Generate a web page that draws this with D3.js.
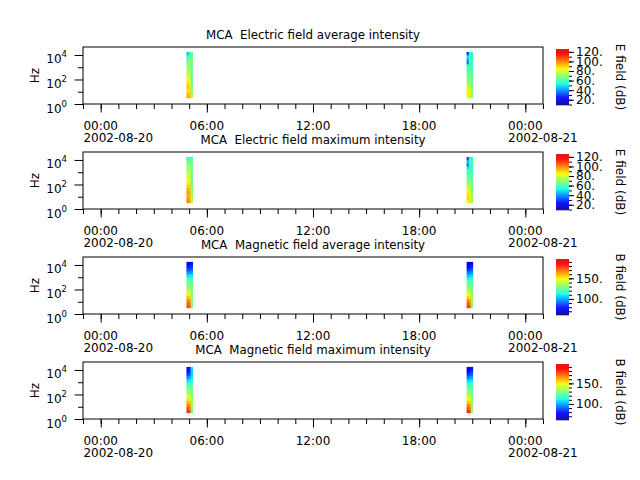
<!DOCTYPE html>
<html>
<head>
<meta charset="utf-8">
<script src="https://cdn.jsdelivr.net/npm/d3@7"></script>
<style>
  body { margin: 0; background: #fff; }
  text { font-family: "DejaVu Sans", sans-serif; fill: #000; white-space: pre; }
</style>
</head>
<body>
<div id="chart"></div>
<script>
// channel centre frequencies (Hz), cells span between neighbours
const channelHz = [3.16, 5.62, 10, 17.8, 31.6, 56.2, 100, 178, 316, 562, 1000, 1780, 3160, 5620, 10000, 17800]

// time bin edges of the two passes
const pass1Times = ["2002-08-20 04:51", "2002-08-20 04:58", "2002-08-20 05:05", "2002-08-20 05:12"]
const pass2Times = ["2002-08-20 20:41", "2002-08-20 20:48", "2002-08-20 20:55", "2002-08-20 21:02"]

const panelTitles = [
  "MCA  Electric field average intensity",
  "MCA  Electric field maximum intensity",
  "MCA  Magnetic field average intensity",
  "MCA  Magnetic field maximum intensity",
]
const cbarLabels = ["E field (dB)", "E field (dB)", "B field (dB)", "B field (dB)"]
const eRange = [9, 126]
const bRange = [61, 197]
const eTicks = [20, 40, 60, 80, 100, 120]
const bTicks = [100, 150]

// values in dB, one array per time bin, low -> high frequency
const eAvgPass1 = [
  [94, 92, 88, 92, 90, 86, 82, 79, 75, 73, 70, 65, 62, 55, 45],
  [92, 90, 87, 88, 85, 82, 79, 76, 73, 72, 70, 68, 67, 65, 58],
  [74, 72, 70, 69, 67, 66, 65, 64, 63, 64, 65, 66, 66, 65, 63],
]
const eAvgPass2 = [
  [82, 86, 83, 79, 73, 68, 65, 63, 62, 60, 55, 35, 40, 50, 28],
  [79, 83, 85, 81, 76, 72, 70, 68, 65, 64, 62, 60, 62, 60, 55],
  [71, 70, 68, 66, 64, 63, 62, 60, 60, 58, 56, 55, 56, 58, 58],
]
const eMaxPass1 = [
  [100, 98, 94, 97, 94, 90, 86, 83, 80, 78, 75, 72, 68, 62, 55],
  [96, 94, 92, 94, 91, 89, 86, 83, 79, 76, 74, 72, 70, 66, 60],
  [77, 75, 73, 72, 70, 68, 66, 64, 63, 63, 64, 66, 66, 64, 62],
]
const eMaxPass2 = [
  [86, 90, 88, 85, 81, 76, 70, 66, 62, 60, 58, 50, 35, 45, 30],
  [81, 85, 87, 85, 79, 75, 72, 70, 68, 65, 62, 58, 60, 62, 55],
  [71, 71, 70, 68, 66, 66, 64, 62, 60, 60, 58, 56, 58, 58, 58],
]
const bAvgPass1 = [
  [174, 171, 166, 158, 150, 142, 133, 128, 125, 117, 108, 97, 87, 80, 75],
  [172, 169, 163, 156, 148, 140, 132, 128, 125, 118, 110, 98, 88, 82, 76],
  [128, 130, 132, 132, 130, 128, 128, 127, 124, 118, 110, 100, 92, 85, 80],
]
const bAvgPass2 = [
  [176, 171, 164, 155, 148, 140, 132, 127, 122, 115, 105, 95, 85, 78, 72],
  [173, 167, 161, 152, 145, 138, 130, 126, 122, 115, 106, 96, 86, 80, 74],
  [130, 132, 134, 133, 130, 128, 126, 125, 122, 116, 108, 98, 90, 84, 78],
]
const bMaxPass1 = [
  [178, 173, 168, 160, 152, 144, 135, 130, 126, 118, 108, 96, 86, 78, 74],
  [175, 171, 165, 157, 150, 142, 134, 130, 126, 119, 110, 100, 90, 84, 80],
  [130, 132, 134, 134, 132, 130, 128, 127, 125, 120, 115, 110, 108, 106, 110],
]
const bMaxPass2 = [
  [179, 173, 166, 157, 150, 142, 133, 128, 124, 117, 107, 96, 86, 78, 73],
  [175, 169, 163, 154, 147, 140, 131, 127, 123, 116, 108, 98, 88, 82, 76],
  [132, 134, 135, 134, 131, 129, 127, 126, 123, 118, 110, 100, 92, 86, 80],
]

const panelData = [
  [eAvgPass1, eAvgPass2],
  [eMaxPass1, eMaxPass2],
  [bAvgPass1, bAvgPass2],
  [bMaxPass1, bMaxPass2],
]
const panelRanges = [eRange, eRange, bRange, bRange]
const panelTicks = [eTicks, eTicks, bTicks, bTicks]

// jet-like colormap ending in plain red
const jetR = d3.scaleLinear().domain([0, 0.35, 0.66, 0.89, 1]).range([0, 0, 1, 1, 0.88]).clamp(true)
const jetG = d3.scaleLinear().domain([0, 0.125, 0.375, 0.64, 0.91, 1]).range([0, 0, 1, 1, 0, 0]).clamp(true)
const jetB = d3.scaleLinear().domain([0, 0.11, 0.34, 0.65, 1]).range([0.5, 1, 1, 0, 0]).clamp(true)
const jet = t => d3.rgb(jetR(t) * 255, jetG(t) * 255, jetB(t) * 255).toString()

const parseTime = d3.timeParse("%Y-%m-%d %H:%M")

const width = 640
const height = 480
let dimensions = {
  left: 83,
  right: 543,
  firstTop: 47,
  step: 105,
  plotHeight: 57,
  cbarX: 556,
  cbarWidth: 13,
}

const svg = d3.select("#chart")
  .append("svg")
  .attr("width", width)
  .attr("height", height)

const xScale = d3.scaleTime()
  .domain([parseTime("2002-08-19 23:00"), parseTime("2002-08-21 01:00")])
  .range([dimensions.left, dimensions.right])

panelData.forEach((passes, p) => {
  const top = dimensions.firstTop + p * dimensions.step
  const bottom = top + dimensions.plotHeight

  const yScale = d3.scaleLog()
    .domain([1, Math.pow(10, 4.65)])
    .range([bottom, top])

  const colorScale = d3.scaleSequential(jet).domain(panelRanges[p])

  const g = svg.append("g")

  // cells
  passes.forEach((bins, k) => {
    const times = (k === 0 ? pass1Times : pass2Times).map(parseTime)
    bins.forEach((column, i) => {
      column.forEach((v, j) => {
        const x0 = xScale(times[i])
        const x1 = xScale(times[i + 1])
        const y0 = yScale(channelHz[j + 1])
        const y1 = yScale(channelHz[j])
        g.append("rect")
          .attr("x", x0)
          .attr("y", y0)
          .attr("width", x1 - x0 + 0.3)
          .attr("height", y1 - y0 + 0.3)
          .attr("fill", colorScale(v))
      })
    })
  })

  // frame
  g.append("rect")
    .attr("x", dimensions.left)
    .attr("y", top)
    .attr("width", dimensions.right - dimensions.left)
    .attr("height", dimensions.plotHeight)
    .attr("fill", "none")
    .attr("stroke", "#000")
    .attr("stroke-width", 1)

  // x axis: hourly minor, 6-hourly major
  const xMinor = g.append("g")
    .attr("transform", `translate(0, ${bottom})`)
    .call(d3.axisBottom(xScale).ticks(d3.timeHour.every(1)).tickSize(5).tickFormat(""))
  const xMajor = g.append("g")
    .attr("transform", `translate(0, ${bottom})`)
    .call(d3.axisBottom(xScale).ticks(d3.timeHour.every(6)).tickSize(8.5).tickFormat(""))
  ;[xMinor, xMajor].forEach(a => {
    a.select(".domain").remove()
    a.selectAll("line").attr("stroke", "#000")
  })

  xScale.ticks(d3.timeHour.every(6)).forEach(t => {
    const label = g.append("text")
      .attr("x", xScale(t))
      .attr("y", bottom + 26)
      .attr("text-anchor", "middle")
      .style("font-size", "12px")
      .text(d3.timeFormat("%H:%M")(t))
    if (t.getHours() === 0) {
      // date line starts where the time text starts
      const half = label.node().getComputedTextLength() / 2
      g.append("text")
        .attr("x", xScale(t) - half)
        .attr("y", bottom + 38)
        .style("font-size", "12px")
        .text(d3.timeFormat("%Y-%m-%d")(t))
    }
  })

  // y axis: decades
  const yMinor = g.append("g")
    .attr("transform", `translate(${dimensions.left}, 0)`)
    .call(d3.axisLeft(yScale).tickValues([10, 1000]).tickSize(5).tickFormat(""))
  const yMajor = g.append("g")
    .attr("transform", `translate(${dimensions.left}, 0)`)
    .call(d3.axisLeft(yScale).tickValues([1, 100, 10000]).tickSize(8.5).tickFormat(""))
  ;[yMinor, yMajor].forEach(a => {
    a.select(".domain").remove()
    a.selectAll("line").attr("stroke", "#000")
  })
  ;[0, 2, 4].forEach(e => {
    const label = g.append("text")
      .attr("x", 67)
      .attr("y", yScale(Math.pow(10, e)) + 8.5)
      .attr("text-anchor", "end")
      .style("font-size", "12px")
    label.append("tspan").text("10")
    label.append("tspan")
      .attr("dy", -6)
      .style("font-size", "8.5px")
      .text(e)
  })

  g.append("text")
    .attr("transform", `translate(39, ${(top + bottom) / 2}) rotate(-90)`)
    .attr("text-anchor", "middle")
    .style("font-size", "12px")
    .text("Hz")

  // title
  g.append("text")
    .attr("x", (dimensions.left + dimensions.right) / 2)
    .attr("y", top - 8)
    .attr("text-anchor", "middle")
    .style("font-size", "11.8px")
    .text(panelTitles[p])

  // colorbar
  const cbTop = top + 2
  const cbBottom = bottom + 1
  const cbScale = d3.scaleLinear()
    .domain(panelRanges[p])
    .range([cbBottom, cbTop])
  d3.range(cbTop, cbBottom, 0.5).forEach(y => {
    g.append("rect")
      .attr("x", dimensions.cbarX)
      .attr("y", y)
      .attr("width", dimensions.cbarWidth)
      .attr("height", 0.8)
      .attr("fill", colorScale(cbScale.invert(y + 0.25)))
  })
  const minorCb = d3.range(Math.ceil(panelRanges[p][0] / 10) * 10, panelRanges[p][1], 10)
  const cbMinor = g.append("g")
    .attr("transform", `translate(${dimensions.cbarX + dimensions.cbarWidth}, 0)`)
    .call(d3.axisRight(cbScale).tickValues(minorCb).tickSize(3).tickFormat(""))
  const cbMajor = g.append("g")
    .attr("transform", `translate(${dimensions.cbarX + dimensions.cbarWidth}, 0)`)
    .call(d3.axisRight(cbScale).tickValues(panelTicks[p]).tickSize(5).tickPadding(2).tickFormat(d => d + "."))
  ;[cbMinor, cbMajor].forEach(a => {
    a.select(".domain").remove()
    a.selectAll("line").attr("stroke", "#000")
  })
  cbMajor.selectAll("text")
    .style("font-size", "12px")
    .style("font-family", "DejaVu Sans")
    .attr("fill", "#000")

  g.append("text")
    .attr("transform", `translate(616, ${(cbTop + cbBottom) / 2}) rotate(90)`)
    .attr("text-anchor", "middle")
    .style("font-size", "12px")
    .text(cbarLabels[p])
})
</script>
</body>
</html>
